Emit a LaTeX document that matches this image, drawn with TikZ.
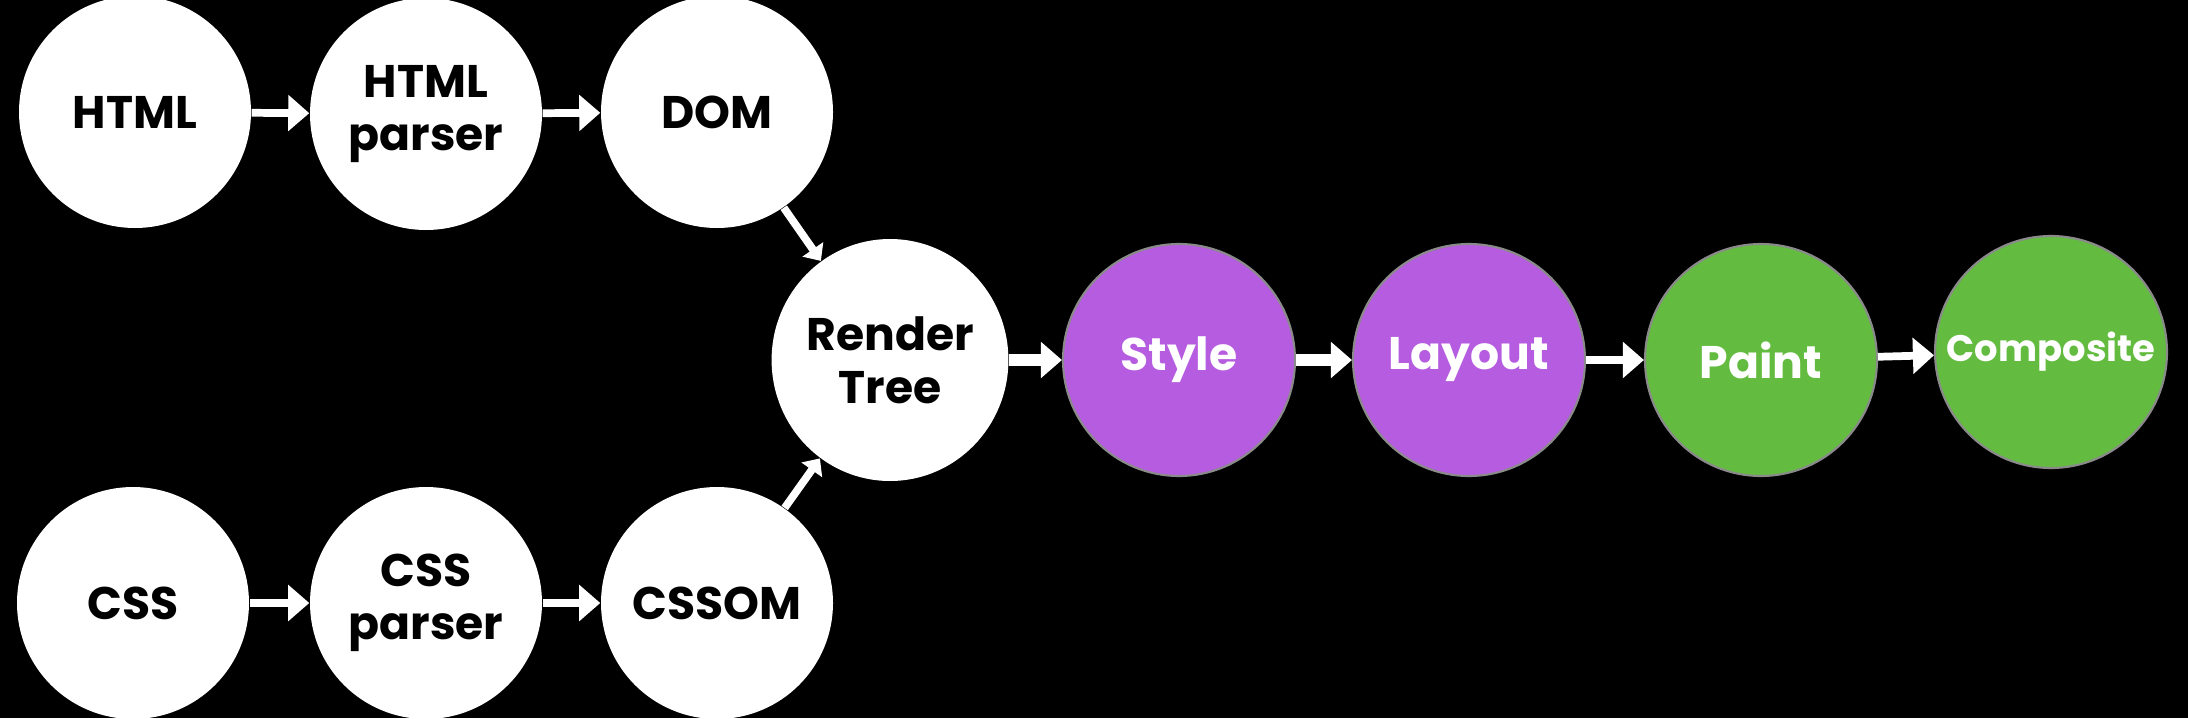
\documentclass[tikz,border=0pt]{standalone}
\usepackage{fontspec}
\setmainfont{Poppins}
\definecolor{RTpurple}{HTML}{B65CE0}
\definecolor{RTgreen}{HTML}{63BC40}
\definecolor{RTedge}{HTML}{8A8A8A}
\usetikzlibrary{arrows.meta, positioning, shapes.geometric}

\begin{document}
\begin{tikzpicture}[
      stage/.style={circle, fill=white, minimum size=2.32cm, inner sep=0pt,
         align=center, font=\bfseries\fontsize{13}{15}\selectfont, text=black},
      pipe/.style={stage, draw=RTedge, line width=0.6pt, text=white},
      feed/.style={draw=white, line width=2.2pt, -{Triangle[length=6pt, width=10pt]}},
      flow/.style={draw=white, line width=3.4pt, -{Triangle[length=6pt, width=10pt]}}
   ]
      % Background
      \fill[black] (0,0) rectangle (21.88,7.18);
      \useasboundingbox (0,0) rectangle (21.88,7.18);
      % HTML row
      \node[stage] (html) at (1.35,6.06) {HTML};
      \node[stage] (hparser) at (4.26,6.04) {HTML\\parser};
      \node[stage] (dom) at (7.17,6.06) {DOM};
      % CSS row
      \node[stage] (css) at (1.33,1.15) {CSS};
      \node[stage] (cparser) at (4.26,1.15) {CSS\\parser};
      \node[stage] (cssom) at (7.17,1.15) {CSSOM};
      % Render tree and pipeline
      \node[stage, ellipse, minimum width=2.33cm, minimum height=2.42cm] (rtree) at (8.90,3.58) {Render\\Tree};
      \node[pipe, fill=RTpurple] (style) at (11.79,3.58) {Style};
      \node[pipe, fill=RTpurple] (layout) at (14.69,3.58) {Layout};
      \node[pipe, fill=RTgreen] (paint) at (17.61,3.58) {Paint};
      \node[pipe, fill=RTgreen, font=\bfseries\fontsize{10.5}{13}\selectfont] (composite) at (20.51,3.66) {Composite};
      % Parsing
      \draw[feed] (html) -- (hparser);
      \draw[feed] (hparser) -- (dom);
      \draw[feed] (css) -- (cparser);
      \draw[feed] (cparser) -- (cssom);
      \draw[feed, -{Triangle[length=4pt, width=7pt]}] (dom) -- (rtree);
      \draw[feed, -{Triangle[length=4pt, width=7pt]}] (cssom) -- (rtree);
      % Rendering steps
      \draw[flow] (rtree) -- (style);
      \draw[flow] (style) -- (layout);
      \draw[feed] (layout) -- (paint);
      \draw[feed] (paint) -- (composite);
\end{tikzpicture}
\end{document}
